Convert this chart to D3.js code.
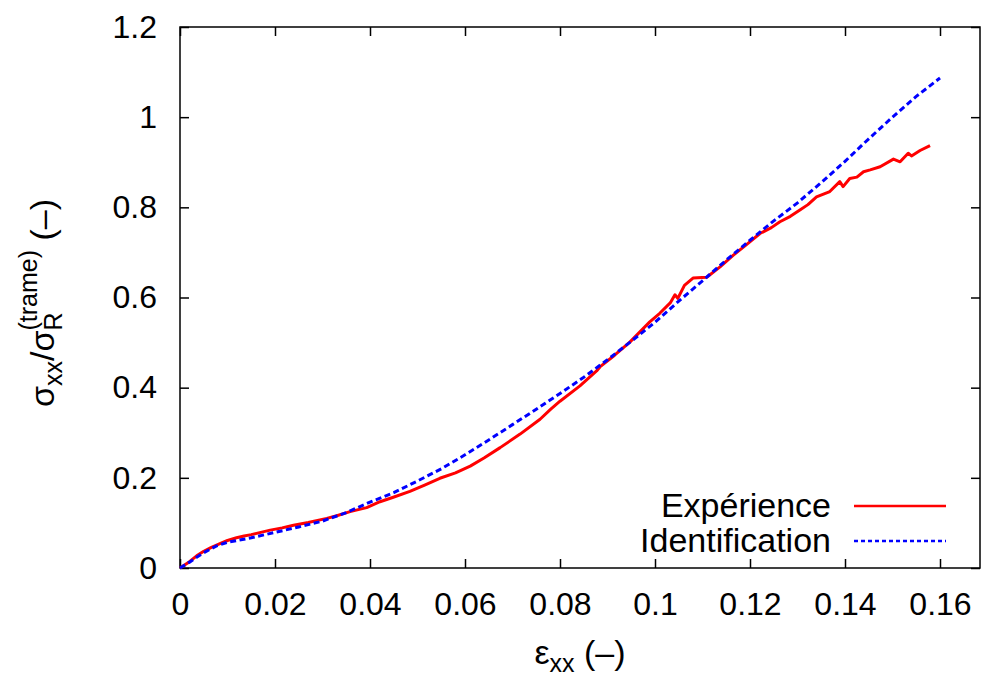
<!DOCTYPE html>
<html>
<head>
<meta charset="utf-8">
<script src="https://d3js.org/d3.v7.min.js"></script>
<style>
  body { margin: 0; background: #fff; }
  text { font-family: "Liberation Sans", Arial, Helvetica, sans-serif; }
</style>
</head>
<body>
<script>
// tick values
var xTicks = [0, 0.02, 0.04, 0.06, 0.08, 0.1, 0.12, 0.14, 0.16];
var yTicks = [0, 0.2, 0.4, 0.6, 0.8, 1, 1.2];

// Expérience (red, measured)
var expX = [0, 0.002, 0.0035, 0.005, 0.0065, 0.0077, 0.009, 0.01, 0.0119, 0.0135, 0.015, 0.017, 0.019, 0.0215, 0.0239, 0.027, 0.0309, 0.033, 0.0358, 0.0393, 0.0421, 0.0449, 0.0484, 0.0515, 0.0547, 0.058, 0.0611, 0.064, 0.0674, 0.0716, 0.0758, 0.078, 0.08, 0.0842, 0.0877, 0.0884, 0.0915, 0.0947, 0.0989, 0.101, 0.1032, 0.1042, 0.1048, 0.1062, 0.108, 0.1109, 0.1137, 0.1165, 0.119, 0.1221, 0.1245, 0.1263, 0.1285, 0.1305, 0.1322, 0.134, 0.1368, 0.1389, 0.1396, 0.141, 0.1425, 0.1439, 0.1453, 0.1474, 0.1502, 0.1516, 0.1533, 0.154, 0.1558, 0.1579];
var expY = [0, 0.014, 0.027, 0.037, 0.045, 0.051, 0.057, 0.061, 0.067, 0.071, 0.074, 0.079, 0.084, 0.089, 0.095, 0.101, 0.110, 0.116, 0.125, 0.134, 0.147, 0.157, 0.170, 0.184, 0.199, 0.211, 0.226, 0.244, 0.267, 0.297, 0.330, 0.352, 0.370, 0.404, 0.437, 0.446, 0.472, 0.501, 0.546, 0.565, 0.588, 0.606, 0.598, 0.627, 0.643, 0.645, 0.668, 0.694, 0.715, 0.742, 0.755, 0.768, 0.780, 0.794, 0.806, 0.823, 0.835, 0.857, 0.846, 0.864, 0.867, 0.879, 0.883, 0.890, 0.907, 0.901, 0.920, 0.914, 0.926, 0.937];

// Identification (blue, model)
var idX = [0, 0.002, 0.0035, 0.005, 0.0077, 0.01, 0.015, 0.02, 0.025, 0.03, 0.035, 0.04, 0.045, 0.05, 0.055, 0.06, 0.065, 0.07, 0.075, 0.08, 0.085, 0.09, 0.095, 0.1, 0.105, 0.11, 0.115, 0.12, 0.125, 0.13, 0.135, 0.14, 0.145, 0.15, 0.155, 0.16];
var idY = [0, 0.013, 0.024, 0.034, 0.049, 0.057, 0.067, 0.079, 0.091, 0.104, 0.123, 0.146, 0.167, 0.193, 0.220, 0.251, 0.284, 0.318, 0.352, 0.387, 0.423, 0.462, 0.503, 0.545, 0.592, 0.637, 0.683, 0.727, 0.770, 0.810, 0.855, 0.902, 0.952, 1.0, 1.046, 1.087];

var legendNames = ["Expérience", "Identification"];

var W = 981, H = 675;
var pl = 180, pr = 980, pt = 27, pb = 568;

var svg = d3.select("body").append("svg")
    .attr("width", W)
    .attr("height", H);

var x = d3.scaleLinear().domain([0, 0.16842]).range([pl, pr]);
var y = d3.scaleLinear().domain([0, 1.2]).range([pb, pt]);

var fs = 32;   // tick labels
var fsT = 34;  // titles, legend

// frame
svg.append("rect")
    .attr("x", pl).attr("y", pt)
    .attr("width", pr - pl).attr("height", pb - pt)
    .attr("fill", "none").attr("stroke", "#000").attr("stroke-width", 1.5);

function styleAxis(g, noLabels) {
  g.select(".domain").remove();
  g.selectAll(".tick line").attr("stroke", "#000").attr("stroke-width", 1.5);
  g.selectAll(".tick text")
    .attr("fill", "#000")
    .style("font-size", fs + "px");
  if (noLabels) g.selectAll(".tick text").remove();
}

var xAxis = svg.append("g")
    .attr("transform", "translate(0," + pb + ")")
    .call(d3.axisBottom(x).tickValues(xTicks).tickFormat(d3.format("")).tickSizeInner(-9).tickSizeOuter(0).tickPadding(24));
styleAxis(xAxis, false);

svg.append("g")
    .attr("transform", "translate(0," + pt + ")")
    .call(d3.axisTop(x).tickValues(xTicks).tickSizeInner(-9).tickSizeOuter(0))
    .call(function (g) { styleAxis(g, true); });

var yAxis = svg.append("g")
    .attr("transform", "translate(" + pl + ",0)")
    .call(d3.axisLeft(y).tickValues(yTicks).tickFormat(d3.format("")).tickSizeInner(-9).tickSizeOuter(0).tickPadding(23));
styleAxis(yAxis, false);

svg.append("g")
    .attr("transform", "translate(" + pr + ",0)")
    .call(d3.axisRight(y).tickValues(yTicks).tickSizeInner(-9).tickSizeOuter(0))
    .call(function (g) { styleAxis(g, true); });

// curves
var expData = expX.map(function (v, i) { return [v, expY[i]]; });
var idData = idX.map(function (v, i) { return [v, idY[i]]; });

var line = d3.line()
    .x(function (d) { return x(d[0]); })
    .y(function (d) { return y(d[1]); });

svg.append("path")
    .attr("d", line(expData))
    .attr("fill", "none")
    .attr("stroke", "#ff0000")
    .attr("stroke-width", 3)
    .attr("stroke-linejoin", "round");

svg.append("path")
    .attr("d", line(idData))
    .attr("fill", "none")
    .attr("stroke", "#0000ff")
    .attr("stroke-width", 3)
    .attr("stroke-dasharray", "6,3.5");

// legend
var legendColors = ["#ff0000", "#0000ff"];
var legendDash = [null, "4,3"];
legendNames.forEach(function (name, i) {
  var ly = 506 + i * 35;
  svg.append("text")
    .attr("x", 831).attr("y", ly + 11)
    .attr("text-anchor", "end")
    .style("font-size", fsT + "px")
    .text(name);
  svg.append("line")
    .attr("x1", 854).attr("x2", 946)
    .attr("y1", ly).attr("y2", ly)
    .attr("stroke", legendColors[i])
    .attr("stroke-width", 2.5)
    .attr("stroke-dasharray", legendDash[i]);
});

// x axis title
var xt = svg.append("text")
    .attr("x", 580).attr("y", 664)
    .attr("text-anchor", "middle")
    .style("font-size", fsT + "px");
xt.append("tspan").text("ε");
xt.append("tspan").attr("dy", 8).style("font-size", "25px").text("xx");
xt.append("tspan").attr("dy", -8).text(" (–)");

// y axis title
var yt = svg.append("text")
    .attr("transform", "translate(54,303) rotate(-90)")
    .attr("text-anchor", "middle")
    .style("font-size", fsT + "px");
yt.append("tspan").text("σ");
yt.append("tspan").attr("dy", 8).style("font-size", "25px").text("xx");
yt.append("tspan").attr("dy", -8).text("/σ");
yt.append("tspan").attr("dy", 8).style("font-size", "25px").text("R");
yt.append("tspan").attr("dx", -18).attr("dy", -25).style("font-size", "25px").text("(trame)");
yt.append("tspan").attr("dy", 17).text(" (–)");
</script>
</body>
</html>
